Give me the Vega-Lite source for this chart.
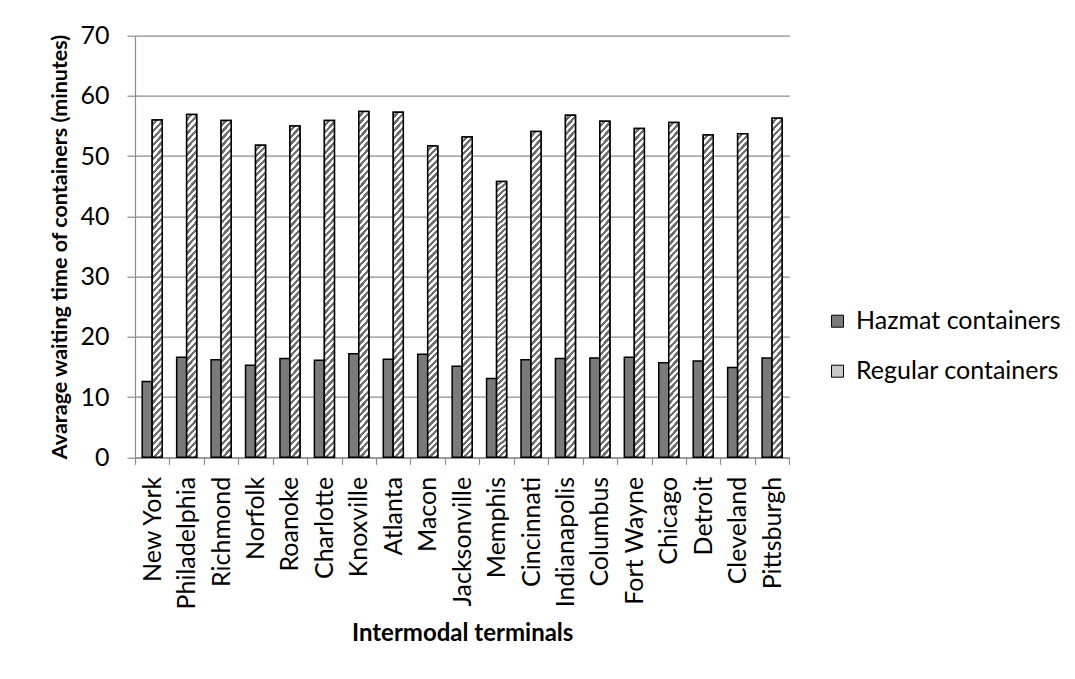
{
  "$schema": "https://vega.github.io/schema/vega-lite/v6.json",
  "autosize": {"type": "none"},
  "padding": {"left": 135, "top": 35.7, "right": 285.7, "bottom": 221.7},
  "width": 654.3,
  "height": 421.6,
  "background": "#ffffff",
  "data": {
    "values": [
      {"terminal": "New York", "series": "Hazmat containers", "minutes": 12.6},
      {"terminal": "New York", "series": "Regular containers", "minutes": 56.0},
      {"terminal": "Philadelphia", "series": "Hazmat containers", "minutes": 16.6},
      {"terminal": "Philadelphia", "series": "Regular containers", "minutes": 56.9},
      {"terminal": "Richmond", "series": "Hazmat containers", "minutes": 16.2},
      {"terminal": "Richmond", "series": "Regular containers", "minutes": 55.9},
      {"terminal": "Norfolk", "series": "Hazmat containers", "minutes": 15.3},
      {"terminal": "Norfolk", "series": "Regular containers", "minutes": 51.8},
      {"terminal": "Roanoke", "series": "Hazmat containers", "minutes": 16.4},
      {"terminal": "Roanoke", "series": "Regular containers", "minutes": 55.0},
      {"terminal": "Charlotte", "series": "Hazmat containers", "minutes": 16.1},
      {"terminal": "Charlotte", "series": "Regular containers", "minutes": 55.9},
      {"terminal": "Knoxville", "series": "Hazmat containers", "minutes": 17.2},
      {"terminal": "Knoxville", "series": "Regular containers", "minutes": 57.4},
      {"terminal": "Atlanta", "series": "Hazmat containers", "minutes": 16.3},
      {"terminal": "Atlanta", "series": "Regular containers", "minutes": 57.3},
      {"terminal": "Macon", "series": "Hazmat containers", "minutes": 17.1},
      {"terminal": "Macon", "series": "Regular containers", "minutes": 51.7},
      {"terminal": "Jacksonville", "series": "Hazmat containers", "minutes": 15.1},
      {"terminal": "Jacksonville", "series": "Regular containers", "minutes": 53.2},
      {"terminal": "Memphis", "series": "Hazmat containers", "minutes": 13.1},
      {"terminal": "Memphis", "series": "Regular containers", "minutes": 45.8},
      {"terminal": "Cincinnati", "series": "Hazmat containers", "minutes": 16.2},
      {"terminal": "Cincinnati", "series": "Regular containers", "minutes": 54.1},
      {"terminal": "Indianapolis", "series": "Hazmat containers", "minutes": 16.4},
      {"terminal": "Indianapolis", "series": "Regular containers", "minutes": 56.8},
      {"terminal": "Columbus", "series": "Hazmat containers", "minutes": 16.5},
      {"terminal": "Columbus", "series": "Regular containers", "minutes": 55.8},
      {"terminal": "Fort Wayne", "series": "Hazmat containers", "minutes": 16.6},
      {"terminal": "Fort Wayne", "series": "Regular containers", "minutes": 54.6},
      {"terminal": "Chicago", "series": "Hazmat containers", "minutes": 15.7},
      {"terminal": "Chicago", "series": "Regular containers", "minutes": 55.6},
      {"terminal": "Detroit", "series": "Hazmat containers", "minutes": 16.0},
      {"terminal": "Detroit", "series": "Regular containers", "minutes": 53.5},
      {"terminal": "Cleveland", "series": "Hazmat containers", "minutes": 14.9},
      {"terminal": "Cleveland", "series": "Regular containers", "minutes": 53.7},
      {"terminal": "Pittsburgh", "series": "Hazmat containers", "minutes": 16.5},
      {"terminal": "Pittsburgh", "series": "Regular containers", "minutes": 56.3}
    ]
  },
  "encoding": {
    "x": {
      "field": "terminal",
      "type": "nominal",
      "sort": null,
      "scale": {"paddingInner": 0, "paddingOuter": 0},
      "axis": {
        "title": "Intermodal terminals",
        "titleFontSize": 24,
        "labelAngle": -90,
        "labelAlign": "right",
        "labelBaseline": "middle",
        "labelPadding": 12,
        "tickSize": 7,
        "tickBand": "extent",
        "titleY": 183,
        "titleBaseline": "alphabetic"
      }
    },
    "xOffset": {
      "field": "series",
      "type": "nominal",
      "scale": {"domain": ["Hazmat containers", "Regular containers"], "paddingInner": 0, "paddingOuter": 0.72}
    },
    "y": {
      "field": "minutes",
      "type": "quantitative",
      "scale": {"domain": [0, 70], "nice": false},
      "axis": {
        "title": "Avarage waiting time of containers (minutes)",
        "titleFontSize": 21.5,
        "values": [0, 10, 20, 30, 40, 50, 60, 70],
        "grid": true,
        "tickSize": 8,
        "labelPadding": 18,
        "titleX": -75,
        "titleY": 210.8,
        "titleAlign": "center",
        "titleBaseline": "middle"
      }
    }
  },
  "layer": [
    {
      "mark": {"type": "bar", "stroke": "#000000", "strokeWidth": 1.5},
      "encoding": {
        "fill": {
          "field": "series",
          "type": "nominal",
          "scale": {"domain": ["Hazmat containers", "Regular containers"], "range": ["#7a7a7a", "#c8c8c8"]},
          "legend": {
            "title": null,
            "orient": "none",
            "legendX": 690,
            "legendY": 273,
            "padding": 0,
            "symbolType": "square",
            "symbolSize": 144,
            "symbolStrokeColor": "#000000",
            "symbolStrokeWidth": 1,
            "labelFontSize": 25,
            "labelLimit": 0,
            "labelColor": "#000000",
            "labelOffset": 6,
            "rowPadding": 24,
            "encoding": {
              "symbols": {
                "fill": {
                  "condition": {
                    "test": "datum.value === 'Regular containers'",
                    "value": {
                      "gradient": "linear", "x1": 0, "y1": 0, "x2": 1, "y2": 1,
                      "stops": [
                        {"offset": 0, "color": "#ffffff"}, {"offset": 0.115, "color": "#ffffff"}, {"offset": 0.125, "color": "#6f6f6f"}, {"offset": 0.24, "color": "#6f6f6f"},
                        {"offset": 0.25, "color": "#ffffff"}, {"offset": 0.365, "color": "#ffffff"}, {"offset": 0.375, "color": "#6f6f6f"}, {"offset": 0.49, "color": "#6f6f6f"},
                        {"offset": 0.5, "color": "#ffffff"}, {"offset": 0.615, "color": "#ffffff"}, {"offset": 0.625, "color": "#6f6f6f"}, {"offset": 0.74, "color": "#6f6f6f"},
                        {"offset": 0.75, "color": "#ffffff"}, {"offset": 0.865, "color": "#ffffff"}, {"offset": 0.875, "color": "#6f6f6f"}, {"offset": 1, "color": "#6f6f6f"}
                      ]
                    }
                  },
                  "value": "#7a7a7a"
                },
                "stroke": {"value": "#000000"},
                "strokeWidth": {"value": 1}
              }
            }
          }
        }
      }
    },
    {
      "transform": [{"filter": "datum.series === 'Regular containers'"}],
      "mark": {
        "type": "bar",
        "stroke": "#000000",
        "strokeWidth": 1.5,
        "fill": {
          "gradient": "linear",
          "x1": 0, "y1": 0, "x2": 0.033, "y2": 1.03,
          "stops": [
            {"offset": 0, "color": "#ffffff"}, {"offset": 0.0095, "color": "#ffffff"}, {"offset": 0.01, "color": "#6f6f6f"}, {"offset": 0.0195, "color": "#6f6f6f"},
            {"offset": 0.02, "color": "#ffffff"}, {"offset": 0.0295, "color": "#ffffff"}, {"offset": 0.03, "color": "#6f6f6f"}, {"offset": 0.0395, "color": "#6f6f6f"},
            {"offset": 0.04, "color": "#ffffff"}, {"offset": 0.0495, "color": "#ffffff"}, {"offset": 0.05, "color": "#6f6f6f"}, {"offset": 0.0595, "color": "#6f6f6f"},
            {"offset": 0.06, "color": "#ffffff"}, {"offset": 0.0695, "color": "#ffffff"}, {"offset": 0.07, "color": "#6f6f6f"}, {"offset": 0.0795, "color": "#6f6f6f"},
            {"offset": 0.08, "color": "#ffffff"}, {"offset": 0.0895, "color": "#ffffff"}, {"offset": 0.09, "color": "#6f6f6f"}, {"offset": 0.0995, "color": "#6f6f6f"},
            {"offset": 0.10, "color": "#ffffff"}, {"offset": 0.1095, "color": "#ffffff"}, {"offset": 0.11, "color": "#6f6f6f"}, {"offset": 0.1195, "color": "#6f6f6f"},
            {"offset": 0.12, "color": "#ffffff"}, {"offset": 0.1295, "color": "#ffffff"}, {"offset": 0.13, "color": "#6f6f6f"}, {"offset": 0.1395, "color": "#6f6f6f"},
            {"offset": 0.14, "color": "#ffffff"}, {"offset": 0.1495, "color": "#ffffff"}, {"offset": 0.15, "color": "#6f6f6f"}, {"offset": 0.1595, "color": "#6f6f6f"},
            {"offset": 0.16, "color": "#ffffff"}, {"offset": 0.1695, "color": "#ffffff"}, {"offset": 0.17, "color": "#6f6f6f"}, {"offset": 0.1795, "color": "#6f6f6f"},
            {"offset": 0.18, "color": "#ffffff"}, {"offset": 0.1895, "color": "#ffffff"}, {"offset": 0.19, "color": "#6f6f6f"}, {"offset": 0.1995, "color": "#6f6f6f"},
            {"offset": 0.20, "color": "#ffffff"}, {"offset": 0.2095, "color": "#ffffff"}, {"offset": 0.21, "color": "#6f6f6f"}, {"offset": 0.2195, "color": "#6f6f6f"},
            {"offset": 0.22, "color": "#ffffff"}, {"offset": 0.2295, "color": "#ffffff"}, {"offset": 0.23, "color": "#6f6f6f"}, {"offset": 0.2395, "color": "#6f6f6f"},
            {"offset": 0.24, "color": "#ffffff"}, {"offset": 0.2495, "color": "#ffffff"}, {"offset": 0.25, "color": "#6f6f6f"}, {"offset": 0.2595, "color": "#6f6f6f"},
            {"offset": 0.26, "color": "#ffffff"}, {"offset": 0.2695, "color": "#ffffff"}, {"offset": 0.27, "color": "#6f6f6f"}, {"offset": 0.2795, "color": "#6f6f6f"},
            {"offset": 0.28, "color": "#ffffff"}, {"offset": 0.2895, "color": "#ffffff"}, {"offset": 0.29, "color": "#6f6f6f"}, {"offset": 0.2995, "color": "#6f6f6f"},
            {"offset": 0.30, "color": "#ffffff"}, {"offset": 0.3095, "color": "#ffffff"}, {"offset": 0.31, "color": "#6f6f6f"}, {"offset": 0.3195, "color": "#6f6f6f"},
            {"offset": 0.32, "color": "#ffffff"}, {"offset": 0.3295, "color": "#ffffff"}, {"offset": 0.33, "color": "#6f6f6f"}, {"offset": 0.3395, "color": "#6f6f6f"},
            {"offset": 0.34, "color": "#ffffff"}, {"offset": 0.3495, "color": "#ffffff"}, {"offset": 0.35, "color": "#6f6f6f"}, {"offset": 0.3595, "color": "#6f6f6f"},
            {"offset": 0.36, "color": "#ffffff"}, {"offset": 0.3695, "color": "#ffffff"}, {"offset": 0.37, "color": "#6f6f6f"}, {"offset": 0.3795, "color": "#6f6f6f"},
            {"offset": 0.38, "color": "#ffffff"}, {"offset": 0.3895, "color": "#ffffff"}, {"offset": 0.39, "color": "#6f6f6f"}, {"offset": 0.3995, "color": "#6f6f6f"},
            {"offset": 0.40, "color": "#ffffff"}, {"offset": 0.4095, "color": "#ffffff"}, {"offset": 0.41, "color": "#6f6f6f"}, {"offset": 0.4195, "color": "#6f6f6f"},
            {"offset": 0.42, "color": "#ffffff"}, {"offset": 0.4295, "color": "#ffffff"}, {"offset": 0.43, "color": "#6f6f6f"}, {"offset": 0.4395, "color": "#6f6f6f"},
            {"offset": 0.44, "color": "#ffffff"}, {"offset": 0.4495, "color": "#ffffff"}, {"offset": 0.45, "color": "#6f6f6f"}, {"offset": 0.4595, "color": "#6f6f6f"},
            {"offset": 0.46, "color": "#ffffff"}, {"offset": 0.4695, "color": "#ffffff"}, {"offset": 0.47, "color": "#6f6f6f"}, {"offset": 0.4795, "color": "#6f6f6f"},
            {"offset": 0.48, "color": "#ffffff"}, {"offset": 0.4895, "color": "#ffffff"}, {"offset": 0.49, "color": "#6f6f6f"}, {"offset": 0.4995, "color": "#6f6f6f"},
            {"offset": 0.50, "color": "#ffffff"}, {"offset": 0.5095, "color": "#ffffff"}, {"offset": 0.51, "color": "#6f6f6f"}, {"offset": 0.5195, "color": "#6f6f6f"},
            {"offset": 0.52, "color": "#ffffff"}, {"offset": 0.5295, "color": "#ffffff"}, {"offset": 0.53, "color": "#6f6f6f"}, {"offset": 0.5395, "color": "#6f6f6f"},
            {"offset": 0.54, "color": "#ffffff"}, {"offset": 0.5495, "color": "#ffffff"}, {"offset": 0.55, "color": "#6f6f6f"}, {"offset": 0.5595, "color": "#6f6f6f"},
            {"offset": 0.56, "color": "#ffffff"}, {"offset": 0.5695, "color": "#ffffff"}, {"offset": 0.57, "color": "#6f6f6f"}, {"offset": 0.5795, "color": "#6f6f6f"},
            {"offset": 0.58, "color": "#ffffff"}, {"offset": 0.5895, "color": "#ffffff"}, {"offset": 0.59, "color": "#6f6f6f"}, {"offset": 0.5995, "color": "#6f6f6f"},
            {"offset": 0.60, "color": "#ffffff"}, {"offset": 0.6095, "color": "#ffffff"}, {"offset": 0.61, "color": "#6f6f6f"}, {"offset": 0.6195, "color": "#6f6f6f"},
            {"offset": 0.62, "color": "#ffffff"}, {"offset": 0.6295, "color": "#ffffff"}, {"offset": 0.63, "color": "#6f6f6f"}, {"offset": 0.6395, "color": "#6f6f6f"},
            {"offset": 0.64, "color": "#ffffff"}, {"offset": 0.6495, "color": "#ffffff"}, {"offset": 0.65, "color": "#6f6f6f"}, {"offset": 0.6595, "color": "#6f6f6f"},
            {"offset": 0.66, "color": "#ffffff"}, {"offset": 0.6695, "color": "#ffffff"}, {"offset": 0.67, "color": "#6f6f6f"}, {"offset": 0.6795, "color": "#6f6f6f"},
            {"offset": 0.68, "color": "#ffffff"}, {"offset": 0.6895, "color": "#ffffff"}, {"offset": 0.69, "color": "#6f6f6f"}, {"offset": 0.6995, "color": "#6f6f6f"},
            {"offset": 0.70, "color": "#ffffff"}, {"offset": 0.7095, "color": "#ffffff"}, {"offset": 0.71, "color": "#6f6f6f"}, {"offset": 0.7195, "color": "#6f6f6f"},
            {"offset": 0.72, "color": "#ffffff"}, {"offset": 0.7295, "color": "#ffffff"}, {"offset": 0.73, "color": "#6f6f6f"}, {"offset": 0.7395, "color": "#6f6f6f"},
            {"offset": 0.74, "color": "#ffffff"}, {"offset": 0.7495, "color": "#ffffff"}, {"offset": 0.75, "color": "#6f6f6f"}, {"offset": 0.7595, "color": "#6f6f6f"},
            {"offset": 0.76, "color": "#ffffff"}, {"offset": 0.7695, "color": "#ffffff"}, {"offset": 0.77, "color": "#6f6f6f"}, {"offset": 0.7795, "color": "#6f6f6f"},
            {"offset": 0.78, "color": "#ffffff"}, {"offset": 0.7895, "color": "#ffffff"}, {"offset": 0.79, "color": "#6f6f6f"}, {"offset": 0.7995, "color": "#6f6f6f"},
            {"offset": 0.80, "color": "#ffffff"}, {"offset": 0.8095, "color": "#ffffff"}, {"offset": 0.81, "color": "#6f6f6f"}, {"offset": 0.8195, "color": "#6f6f6f"},
            {"offset": 0.82, "color": "#ffffff"}, {"offset": 0.8295, "color": "#ffffff"}, {"offset": 0.83, "color": "#6f6f6f"}, {"offset": 0.8395, "color": "#6f6f6f"},
            {"offset": 0.84, "color": "#ffffff"}, {"offset": 0.8495, "color": "#ffffff"}, {"offset": 0.85, "color": "#6f6f6f"}, {"offset": 0.8595, "color": "#6f6f6f"},
            {"offset": 0.86, "color": "#ffffff"}, {"offset": 0.8695, "color": "#ffffff"}, {"offset": 0.87, "color": "#6f6f6f"}, {"offset": 0.8795, "color": "#6f6f6f"},
            {"offset": 0.88, "color": "#ffffff"}, {"offset": 0.8895, "color": "#ffffff"}, {"offset": 0.89, "color": "#6f6f6f"}, {"offset": 0.8995, "color": "#6f6f6f"},
            {"offset": 0.90, "color": "#ffffff"}, {"offset": 0.9095, "color": "#ffffff"}, {"offset": 0.91, "color": "#6f6f6f"}, {"offset": 0.9195, "color": "#6f6f6f"},
            {"offset": 0.92, "color": "#ffffff"}, {"offset": 0.9295, "color": "#ffffff"}, {"offset": 0.93, "color": "#6f6f6f"}, {"offset": 0.9395, "color": "#6f6f6f"},
            {"offset": 0.94, "color": "#ffffff"}, {"offset": 0.9495, "color": "#ffffff"}, {"offset": 0.95, "color": "#6f6f6f"}, {"offset": 0.9595, "color": "#6f6f6f"},
            {"offset": 0.96, "color": "#ffffff"}, {"offset": 0.9695, "color": "#ffffff"}, {"offset": 0.97, "color": "#6f6f6f"}, {"offset": 0.9795, "color": "#6f6f6f"},
            {"offset": 0.98, "color": "#ffffff"}, {"offset": 0.9895, "color": "#ffffff"}, {"offset": 0.99, "color": "#6f6f6f"}, {"offset": 1, "color": "#6f6f6f"}
          ]
        }
      }
    }
  ],
  "config": {
    "font": "Lato",
    "view": {"stroke": null},
    "axis": {
      "labelFont": "Lato",
      "labelFontSize": 25,
      "labelColor": "#000000",
      "titleFont": "Lato",
      "titleFontSize": 23,
      "titleFontWeight": "bold",
      "titleColor": "#000000",
      "domainColor": "#8c8c8c",
      "domainWidth": 1.2,
      "tickColor": "#8c8c8c",
      "tickWidth": 1.2,
      "gridColor": "#8c8c8c",
      "gridWidth": 1.2
    },
    "legend": {"labelFont": "Lato"}
  }
}
